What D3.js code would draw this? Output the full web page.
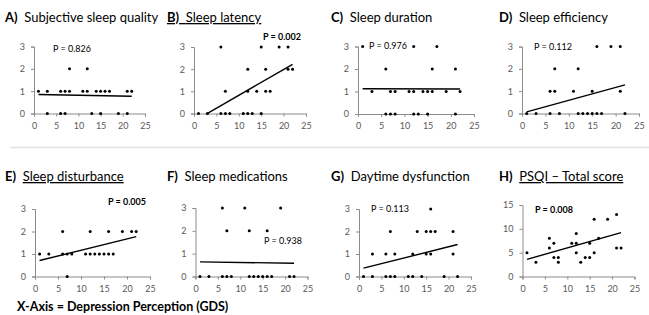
<!DOCTYPE html>
<html><head><meta charset="utf-8">
<script src="https://cdn.jsdelivr.net/npm/d3@7"></script>
<style>body{margin:0;background:#fff} svg{display:block} text{font-family:Lato,"Open Sans",sans-serif}</style>
</head><body><svg id="c" width="649" height="315"></svg>
<script>
// ---------- data ----------
const xTicks = [0, 5, 10, 15, 20, 25];
const yTicksSmall = [0, 1, 2, 3];
const yTicksTotal = [0, 5, 10, 15];
const panelLetters = ["A)", "B)", "C)", "D)", "E)", "F)", "G)", "H)"];
const panelNames = ["Subjective sleep quality", "Sleep latency", "Sleep duration", "Sleep efficiency",
                    "Sleep disturbance", "Sleep medications", "Daytime dysfunction", "PSQI – Total score"];
const pLabels = ["P = 0.826", "P = 0.002", "P = 0.976", "P = 0.112", "P = 0.005", "P = 0.938", "P = 0.113", "P = 0.008"];
const pSignificant = [false, true, false, false, true, false, false, true];
const xAxisTitle = "X-Axis = Depression Perception (GDS)";

const dataA = [[8,2],[12,2],[1,1],[3,1],[6,1],[7,1],[8,1],[11,1],[12,1],[14,1],[15,1],[16,1],[17,1],[21,1],[22,1],
               [3,0],[6,0],[7,0],[13,0],[15,0],[19,0],[21,0]];
const dataB = [[6,3],[15,3],[19,3],[21,3],[12,2],[16,2],[21,2],[22,2],[7,1],[12,1],[14,1],[16,1],[17,1],
               [1,0],[3,0],[6,0],[7,0],[8,0],[11,0],[12,0],[13,0],[15,0]];
const dataC = [[1,3],[12,3],[17,3],[6,2],[16,2],[21,2],[3,1],[7,1],[8,1],[11,1],[12,1],[14,1],[15,1],[16,1],[19,1],[22,1],
               [6,0],[7,0],[8,0],[12,0],[13,0],[15,0],[21,0]];
const dataD = [[16,3],[19,3],[21,3],[7,2],[12,2],[6,1],[7,1],[11,1],[15,1],[21,1],
               [1,0],[3,0],[6,0],[8,0],[12,0],[13,0],[14,0],[15,0],[16,0],[17,0],[22,0]];
const dataE = [[6,2],[12,2],[16,2],[19,2],[21,2],[22,2],[1,1],[3,1],[6,1],[7,1],[8,1],[11,1],[12,1],[13,1],[14,1],[15,1],[16,1],[17,1],
               [7,0]];
const dataF = [[6,3],[11,3],[19,3],[7,2],[12,2],[16,2],
               [1,0],[3,0],[6,0],[7,0],[8,0],[12,0],[13,0],[14,0],[15,0],[16,0],[17,0],[21,0],[22,0]];
const dataG = [[16,3],[7,2],[13,2],[15,2],[16,2],[17,2],[21,2],[3,1],[6,1],[8,1],[12,1],[15,1],[16,1],[21,1],
               [1,0],[3,0],[6,0],[7,0],[8,0],[11,0],[12,0],[14,0],[19,0],[22,0]];
const dataH = [[1,5],[3,3],[6,8],[6,6],[7,7],[7,4],[8,4],[8,3],[11,7],[12,9],[12,7],[12,5],[13,3],[14,4],[15,4],[15,7],
               [16,12],[16,5],[17,8],[19,12],[21,13],[21,6],[22,6]];

const trendA = [[1,0.85],[22,0.77]];
const trendB = [[1,-0.23],[22,2.22]];
const trendC = [[1,1.12],[22,1.11]];
const trendD = [[1,0.07],[22,1.28]];
const trendE = [[1,0.71],[22,1.77]];
const trendF = [[1,0.64],[22,0.58]];
const trendG = [[1,0.37],[22,1.42]];
const trendH = [[1,3.6],[22,9.2]];

const panelData = [dataA, dataB, dataC, dataD, dataE, dataF, dataG, dataH];
const panelTrend = [trendA, trendB, trendC, trendD, trendE, trendF, trendG, trendH];

// ---------- layout ----------
const layout = [
  {ox:34, w:111, top:46.5, bot:113.5, tx:5, ty:22, px:53, py:52, ymax:3},
  {ox:194, w:112, top:47, bot:113.5, tx:167, ty:22, px:263, py:40, ymax:3},
  {ox:358, w:116, top:46.5, bot:114, tx:331, ty:22, px:369, py:49, ymax:3},
  {ox:522, w:117, top:46.5, bot:113.5, tx:499, ty:22, px:534, py:50, ymax:3},
  {ox:35, w:115, top:209, bot:276.5, tx:5, ty:181, px:108, py:205, ymax:3},
  {ox:195.5, w:112, top:208, bot:276.5, tx:167, ty:181, px:264, py:244, ymax:3},
  {ox:359, w:112, top:209, bot:276.5, tx:331, ty:181, px:371, py:212, ymax:3},
  {ox:522.5, w:112, top:205, bot:276.5, tx:499, ty:181, px:535, py:213, ymax:15}
];
const underlineMode = ["none","all","none","none","name","none","none","name"];

const svg = d3.select("#c");
const axisColor = "#8c8c8c", labelColor = "#595959";

// separator
svg.append("line").attr("x1",10).attr("x2",649).attr("y1",147.5).attr("y2",147.5)
  .attr("stroke","#e3e3e3").attr("stroke-width",1.5);

layout.forEach((L, i) => {
  const x = d3.scaleLinear().domain([0,25]).range([L.ox, L.ox + L.w]);
  const y = d3.scaleLinear().domain([0,L.ymax]).range([L.bot, L.top]);
  const g = svg.append("g");

  // title
  const t = g.append("text").attr("x", L.tx).attr("y", L.ty).attr("font-size", 13).attr("fill", "#000");
  const letter = t.append("tspan").attr("font-weight", "bold").text(panelLetters[i]);
  const sp = t.append("tspan").text("\u00a0 ");
  const nm = t.append("tspan").text(panelNames[i]);
  if (underlineMode[i] === "all") { letter.attr("text-decoration","underline"); sp.attr("text-decoration","underline"); nm.attr("text-decoration","underline"); }
  if (underlineMode[i] === "name") { nm.attr("text-decoration","underline"); }

  // axes
  const xa = g.append("g").attr("transform", `translate(0,${L.bot})`)
    .call(d3.axisBottom(x).tickValues(xTicks).tickSize(3).tickPadding(6).tickFormat(d3.format("d")));
  const ya = g.append("g").attr("transform", `translate(${L.ox},0)`)
    .call(d3.axisLeft(y).tickValues(L.ymax === 3 ? yTicksSmall : yTicksTotal).tickSize(3).tickPadding(6).tickFormat(d3.format("d")));
  [xa, ya].forEach(a => {
    a.select(".domain").attr("stroke", axisColor).attr("stroke-width", 1);
    a.selectAll(".tick line").attr("stroke", axisColor);
    a.selectAll(".tick text").attr("fill", labelColor).attr("font-size", 9).attr("font-family", "Lato, sans-serif");
  });

  // clip
  const cid = "clip" + i;
  svg.append("clipPath").attr("id", cid).append("rect")
    .attr("x", L.ox).attr("y", L.top - 2).attr("width", L.w).attr("height", L.bot - L.top + 2);

  // trend line
  g.append("path").datum(panelTrend[i]).attr("clip-path", `url(#${cid})`)
    .attr("d", d3.line().x(d => x(d[0])).y(d => y(d[1])))
    .attr("stroke", "#000").attr("stroke-width", 1.4).attr("fill", "none");

  // points
  g.selectAll("circle").data(panelData[i]).join("circle")
    .attr("cx", d => x(d[0])).attr("cy", d => y(d[1])).attr("r", 1.5).attr("fill", "#000");

  // p label
  g.append("text").attr("x", L.px).attr("y", L.py).attr("font-size", 9)
    .attr("font-weight", pSignificant[i] ? "bold" : "normal").attr("fill", "#000").text(pLabels[i]);
});

svg.append("text").attr("x", 17).attr("y", 311).attr("font-size", 12.5).attr("font-weight", "bold")
  .attr("fill", "#000").text(xAxisTitle);
</script>
</body></html>
